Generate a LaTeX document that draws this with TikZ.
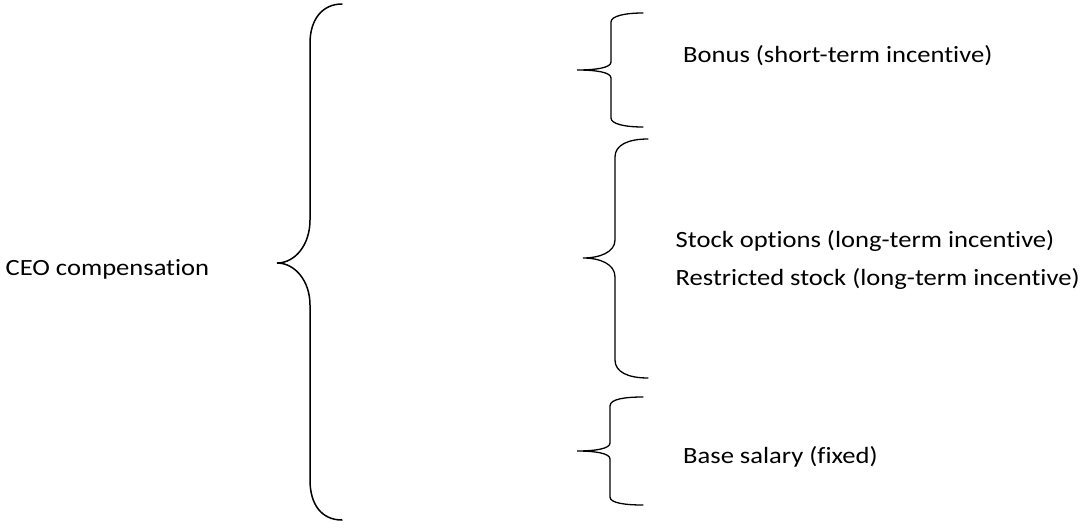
\documentclass[tikz,border=0pt]{standalone}
\usepackage{fontspec}
\setmainfont{Carlito}[FakeStretch=1.14,Ligatures=NoCommon]
\begin{document}
\begin{tikzpicture}[x=1pt,y=-1pt,
  brace/.style={line width=1.3pt,line cap=round},
  lbl/.style={anchor=base west,inner sep=0pt,font=\fontsize{23.3}{26}\selectfont}]
\useasboundingbox (0,0) rectangle (1084,530);
% big brace
\draw[brace,line width=1.5pt] (342,4) .. controls (322,4) and (310,20) .. (310,43) -- (310,220)
  .. controls (310,245) and (295,263) .. (277,263)
  .. controls (295,263) and (310,281) .. (310,305) -- (310,480)
  .. controls (310,505) and (322,520) .. (342,520);
% brace 1
\draw[brace] (643,13) .. controls (625,13) and (611,16) .. (611,22) -- (611,62)
  .. controls (611,68) and (595,70) .. (577,70)
  .. controls (595,70) and (611,72) .. (611,78) -- (611,118)
  .. controls (611,124) and (625,127) .. (643,127);
% brace 2
\draw[brace] (648,139) .. controls (628,139) and (615,145) .. (615,157) -- (615,240)
  .. controls (615,252) and (600,258) .. (583,258)
  .. controls (600,258) and (615,264) .. (615,277) -- (615,360)
  .. controls (615,372) and (628,378) .. (648,378);
% brace 3
\draw[brace] (643,397) .. controls (625,397) and (610,399) .. (610,406) -- (610,443)
  .. controls (610,449) and (594,451) .. (577,451)
  .. controls (594,451) and (610,453) .. (610,459) -- (610,497)
  .. controls (610,503) and (625,505) .. (643,505);
\node[lbl] (ceo) at (5.5,275) {CEO compensation};
\node[lbl] (bonus) at (683,62) {Bonus (short-term incentive)};
\node[lbl] (opt) at (675.5,247) {Stock options (long-term incentive)};
\node[lbl] (rs) at (675.5,285) {Restricted stock (long-term incentive)};
\node[lbl] (base) at (683,463) {Base salary (fixed)};
\end{tikzpicture}
\end{document}
